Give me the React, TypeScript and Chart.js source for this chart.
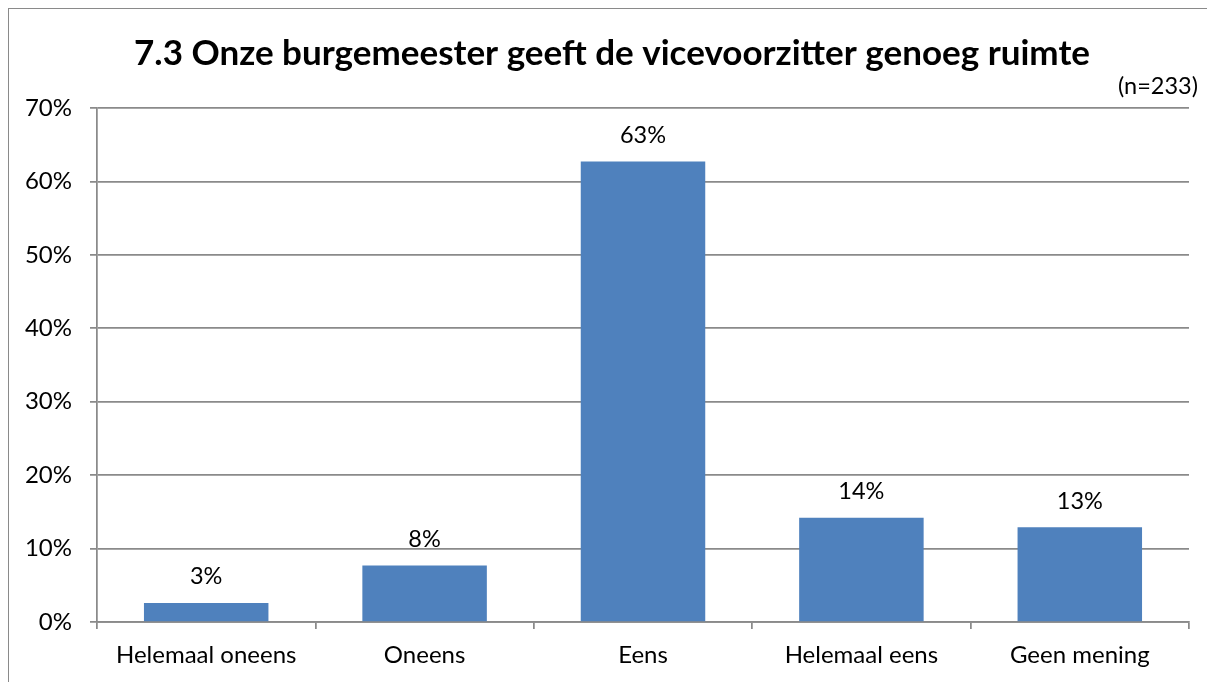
import React, { useEffect, useRef } from "react";
import { Chart, registerables } from "chart.js";

Chart.register(...registerables);

const categories = ["Helemaal oneens", "Oneens", "Eens", "Helemaal eens", "Geen mening"];
const values = [2.6, 7.7, 62.7, 14.2, 12.9];
const valueLabels = ["3%", "8%", "63%", "14%", "13%"];
const titleText = "7.3 Onze burgemeester geeft de vicevoorzitter genoeg ruimte";
const noteText = "(n=233)";

const FONT = "Lato, 'Open Sans', sans-serif";
const GRID = "#8a8a8a";

export default function App() {
  const ref = useRef<HTMLCanvasElement | null>(null);
  useEffect(() => {
    document.body.style.overflow = "hidden";
    const canvas = ref.current!;
    const textPlugin = {
      id: "texts",
      afterDraw(chart: any) {
        const ctx = chart.ctx;
        ctx.save();
        ctx.fillStyle = "#000";
        ctx.textAlign = "center";
        ctx.textBaseline = "middle";
        ctx.font = `bold 35px ${FONT}`;
        ctx.fillText(titleText, 603, 45);
        ctx.font = `23.5px ${FONT}`;
        ctx.textAlign = "right";
        ctx.fillText(noteText, 1189, 77);
        const meta = chart.getDatasetMeta(0);
        ctx.textAlign = "center";
        meta.data.forEach((bar: any, i: number) => {
          ctx.fillText(valueLabels[i], bar.x, bar.y - 26);
        });
        ctx.restore();
      },
    };
    const chart = new Chart(canvas, {
      type: "bar",
      data: {
        labels: categories,
        datasets: [
          {
            data: values,
            backgroundColor: "#4F81BD",
            categoryPercentage: 0.57,
            barPercentage: 1,
          },
        ],
      },
      options: {
        animation: false,
        responsive: false,
        maintainAspectRatio: false,
        layout: { padding: { top: 99, right: 26, left: 0, bottom: 0 } },
        plugins: { legend: { display: false }, tooltip: { enabled: false }, title: { display: false } },
        scales: {
          x: {
            offset: true,
            grid: { offset: true, drawOnChartArea: false, drawTicks: true, tickLength: 7, color: GRID, lineWidth: 1.75 },
            border: { color: GRID, width: 1.75 },
            ticks: { color: "#000", font: { family: FONT, size: 24 }, padding: 12, maxRotation: 0 },
            afterFit: (s: any) => { s.height = 60; },
          },
          y: {
            min: 0,
            max: 70,
            ticks: { stepSize: 10, color: "#000", font: { family: FONT, size: 24 }, padding: 18, callback: (v: any) => v + "%" },
            grid: { color: GRID, tickLength: 7, lineWidth: 1.75 },
            border: { color: GRID, width: 1.75 },
            afterFit: (s: any) => { s.width = 88; },
          },
        },
      },
      plugins: [textPlugin],
    } as any);
    return () => chart.destroy();
  }, []);
  return (
    <div style={{ width: 1206, height: 673, borderLeft: `1px solid ${GRID}`, borderTop: `1px solid ${GRID}`, background: "#fff" }}>
      <canvas ref={ref} width={1206} height={673} style={{ display: "block" }} />
    </div>
  );
}
